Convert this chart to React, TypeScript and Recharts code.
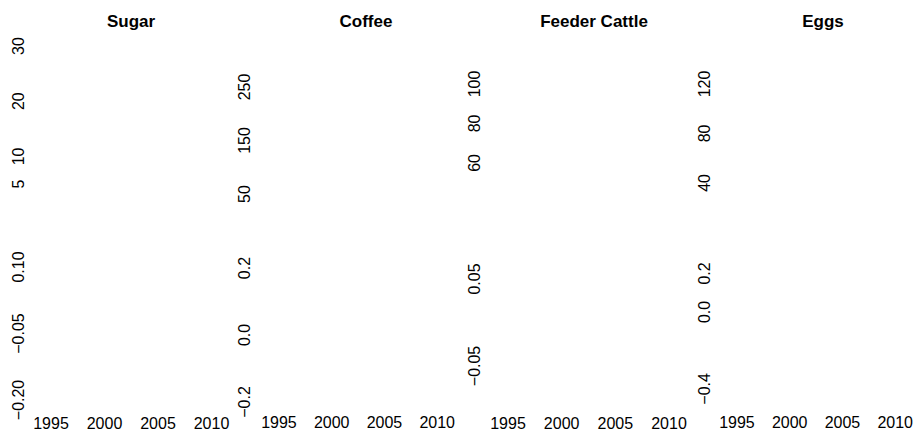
import { Line, LineChart, XAxis, YAxis } from "recharts";

const titles = ["Sugar", "Coffee", "Feeder Cattle", "Eggs"];
const years = [1995, 2000, 2005, 2010];

// price panel (top) ticks and ranges
const priceTicks = [
  [5, 10, 20, 30],
  [50, 150, 250],
  [60, 80, 100],
  [40, 80, 120],
];
const priceRanges = [
  [1.2, 32.9],
  [29.4, 356.5],
  [38.7, 127.3],
  [22.2, 163.6],
];

// returns panel (bottom) ticks and ranges
const returnTicks = [
  [-0.2, -0.05, 0.1],
  [-0.2, 0, 0.2],
  [-0.05, 0.05],
  [-0.4, 0, 0.2],
];
const returnRanges = [
  [-0.2226, 0.161],
  [-0.2239, 0.2836],
  [-0.1006, 0.0948],
  [-0.51, 0.374],
];
const returnDigits = [2, 1, 2, 1];

// layout (page pixels)
const x1995 = [51, 278.5, 508, 736.5];
const x2010 = [211.5, 436.7, 669, 894.7];
const yLabelX = [19, 244, 475, 704];
const titleX = [131, 366, 594, 823];
const TOP = { y: 30, h: 175 };
const BOTTOM = { y: 240, h: 170, axis: 22 };
const AXIS_W = 40;
const PAD = 12;
const RIGHT = 22;
const FONT = "'Liberation Sans', Arial, Helvetica, sans-serif";

const rows = years.map((year) => ({ year }));

const fmt = (v: number, d: number) => {
  const s = Math.abs(v).toFixed(d);
  return v < 0 ? `\u2212${s}` : s;
};

function Subplot({
  i,
  top,
  height,
  axisH,
  domain,
  ticks,
  digits,
  showX,
}: {
  i: number;
  top: number;
  height: number;
  axisH: number;
  domain: number[];
  ticks: number[];
  digits: number;
  showX: boolean;
}) {
  const ppy = (x2010[i] - x1995[i]) / 15;
  const plotLeft = x1995[i] - PAD;
  const plotRight = x2010[i] + PAD;
  const chartLeft = plotLeft - AXIS_W;
  const width = plotRight - chartLeft + RIGHT;
  const xDomain = [1995 - PAD / ppy, 2010 + PAD / ppy];
  const lx = yLabelX[i] - chartLeft;

  return (
    <div style={{ position: "absolute", left: chartLeft, top }}>
      <LineChart
        width={width}
        height={height + axisH}
        data={rows}
        margin={{ top: 0, right: RIGHT, left: 0, bottom: 0 }}
      >
        <XAxis
          dataKey="year"
          type="number"
          domain={xDomain}
          ticks={years}
          interval={0}
          allowDataOverflow
          hide={!showX}
          height={axisH}
          axisLine={false}
          tickLine={false}
          tick={({ x, payload }: any) => (
            <text
              x={x}
              y={height + 13}
              textAnchor="middle"
              dominantBaseline="central"
              fontSize={16}
              fontFamily={FONT}
              fill="#000"
            >
              {payload.value}
            </text>
          )}
        />
        <YAxis
          type="number"
          domain={domain}
          ticks={ticks}
          interval={0}
          allowDataOverflow
          width={AXIS_W}
          axisLine={false}
          tickLine={false}
          tick={({ y, payload }: any) => (
            <text
              x={lx}
              y={y}
              transform={`rotate(-90 ${lx} ${y})`}
              textAnchor="middle"
              dominantBaseline="central"
              fontSize={16}
              fontFamily={FONT}
              fill="#000"
            >
              {digits > 0 ? fmt(payload.value, digits) : payload.value}
            </text>
          )}
        />
        <Line dataKey="value" stroke="#000" dot={false} isAnimationActive={false} />
      </LineChart>
    </div>
  );
}

export default function App() {
  return (
    <div
      style={{
        position: "fixed",
        left: 0,
        top: 0,
        width: 918,
        height: 432,
        background: "#fff",
        fontFamily: FONT,
        overflow: "hidden",
      }}
    >
      {titles.map((t, i) => (
        <div key={t}>
          <div
            style={{
              position: "absolute",
              left: titleX[i] - 100,
              width: 200,
              top: 12,
              textAlign: "center",
              fontSize: 17,
              fontWeight: "bold",
              lineHeight: "20px",
              color: "#000",
            }}
          >
            {t}
          </div>
          <Subplot
            i={i}
            top={TOP.y}
            height={TOP.h}
            axisH={0}
            domain={priceRanges[i]}
            ticks={priceTicks[i]}
            digits={0}
            showX={false}
          />
          <Subplot
            i={i}
            top={BOTTOM.y}
            height={BOTTOM.h}
            axisH={BOTTOM.axis}
            domain={returnRanges[i]}
            ticks={returnTicks[i]}
            digits={returnDigits[i]}
            showX
          />
        </div>
      ))}
    </div>
  );
}
